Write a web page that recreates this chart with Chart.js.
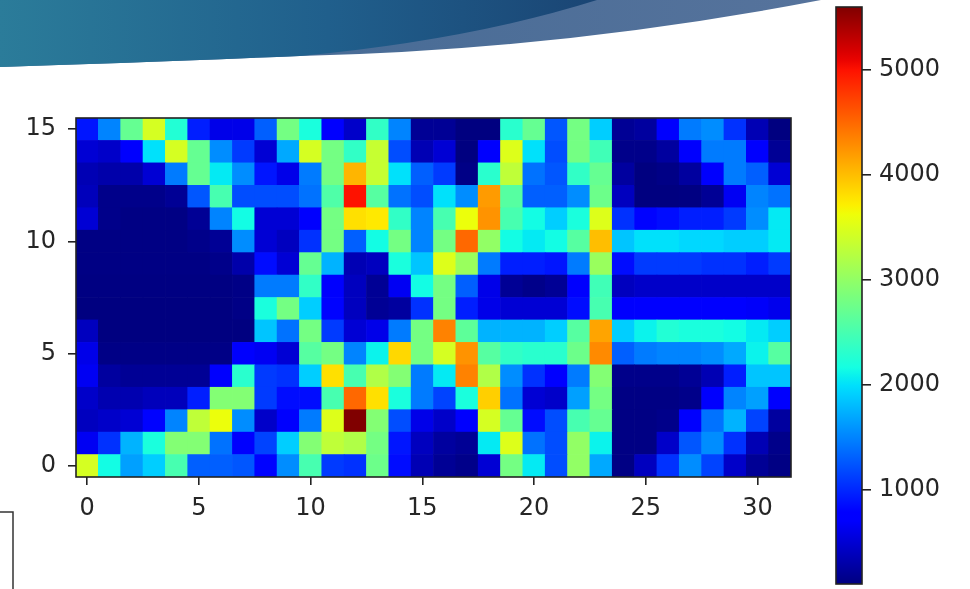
<!DOCTYPE html>
<html>
<head>
<meta charset="utf-8">
<script src="https://cdn.jsdelivr.net/npm/chart.js@4.4.1/dist/chart.umd.min.js"></script>
<style>
  html, body { margin: 0; padding: 0; background: #ffffff; }
  #stage { position: relative; width: 970px; height: 589px; overflow: hidden; background: #ffffff; }
  #deco { position: absolute; left: 0; top: 0; }
  #heatWrap { position: absolute; left: 0; top: 0; width: 820px; height: 589px; }
  #barWrap { position: absolute; left: 800px; top: 0; width: 170px; height: 589px; }
</style>
</head>
<body>
<div id="stage">
  <svg id="deco" width="970" height="589" xmlns="http://www.w3.org/2000/svg">
    <defs>
      <linearGradient id="darkBand" x1="0" y1="0" x2="1" y2="0">
        <stop offset="0" stop-color="#2b7c9a"/>
        <stop offset="0.55" stop-color="#205f8c"/>
        <stop offset="1" stop-color="#1a4574"/>
      </linearGradient>
      <linearGradient id="lightBand" x1="0" y1="0" x2="1" y2="0">
        <stop offset="0" stop-color="#3f6792"/>
        <stop offset="1" stop-color="#56739c"/>
      </linearGradient>
    </defs>
    <path d="M0,0 L821,0 Q560,50 300,56 Q130,63 0,67 Z" fill="url(#lightBand)"/>
    <path d="M0,0 L597,0 Q470,40 300,56 Q130,63 0,67 Z" fill="url(#darkBand)"/>
    <path d="M0,512 H13 V589" fill="none" stroke="#333333" stroke-width="1.5"/>
  </svg>
  <div id="heatWrap"><canvas id="heat"></canvas></div>
  <div id="barWrap"><canvas id="cbar"></canvas></div>
</div>
<script>
// Grid indices and tick labels
const columns = [0,1,2,3,4,5,6,7,8,9,10,11,12,13,14,15,16,17,18,19,20,21,22,23,24,25,26,27,28,29,30,31];
const rowIndex = [0,1,2,3,4,5,6,7,8,9,10,11,12,13,14,15];
const xTicks = [0, 5, 10, 15, 20, 25, 30];
const yTicks = [0, 5, 10, 15];
const cbarTicks = [1000, 2000, 3000, 4000, 5000];

// Cell values, one array per row (row 0 at the bottom)
const row0  = [3450,2150,1650,1900,2500,1300,1300,1250, 800,1550,2500,1100,1050,2750,850,350, 200,150,500,2800,2050,1200,3000,1700, 120,400,1050,1550,1150,450,200,120];
const row1  = [650,1050,1750,2200,2900,2900,1400,700, 1150,1900,2900,3300,3200,2800,900,400, 250,200,2050,3500,1400,1200,3000,2100, 120,120,450,1250,1550,1050,350,150];
const row2  = [400,450,500,800,1500,3300,3600,1550, 450,700,1450,3500,5600,2900,1200,600, 450,700,3450,2700,850,1200,2500,2700, 120,120,150,700,1400,1750,1150,250];
const row3  = [450,330,330,380,380,950,2900,2900, 1100,850,850,2500,4500,3800,2200,1450, 1150,2200,3900,1400,500,450,1650,2800, 120,120,120,150,700,1500,1650,700];
const row4  = [650,250,200,200,200,200,700,2300, 1100,1050,1900,3800,2500,3200,2900,1450, 2050,4350,3200,1550,1050,750,1450,2900, 150,150,150,200,350,950,1850,1850];
const row5  = [600,130,130,130,130,130,130,700, 650,500,2600,2800,1500,2100,3850,2800, 3450,4250,2600,2350,2300,2300,2750,4300, 1300,1450,1500,1500,1550,1700,2100,2600];
const row6  = [400,100,100,100,100,100,100,100, 1850,1400,2800,1100,500,600,1450,2800, 4350,2650,1750,1750,1750,1900,2600,4150, 1900,2100,2250,2200,2200,2150,2050,1900];
const row7  = [100,100,100,100,100,100,100,130, 2200,2800,1900,800,400,200,250,1050, 2800,950,600,500,500,500,850,2500, 700,720,720,720,720,720,680,620];
const row8  = [110,110,110,110,110,110,110,130, 1450,1450,2350,700,400,200,650,2150, 2800,1300,600,200,150,200,700,2450, 400,450,450,450,450,450,450,450];
const row9  = [120,120,120,120,120,120,150,300, 850,500,2700,1750,350,400,2200,1850, 3500,3050,1450,950,950,900,1450,3050, 850,1100,1100,1100,1050,1050,950,1100];
const row10 = [120,120,120,120,120,150,200,1550, 500,400,1050,2800,1300,2150,2800,1500, 2800,4500,3000,2150,2050,2150,2600,4000, 1850,2000,2000,1950,1950,1900,1900,2050];
const row11 = [500,150,120,120,120,200,1500,2150, 500,500,700,2800,3800,3750,2350,1500, 2500,3600,4250,2500,2150,1900,2200,3500, 1050,800,850,950,950,1100,1550,2050];
const row12 = [380,150,150,150,200,1250,2500,1200, 1200,1200,1400,2550,5000,2600,1400,1200, 2000,1550,4200,2600,1300,1300,1550,2750, 400,100,100,110,200,650,1500,1400];
const row13 = [350,300,300,500,1450,2700,2050,1550, 900,600,1450,2800,4050,3350,2000,1300, 1100,130,2300,3300,1400,1250,2350,2700, 250,100,130,250,700,1450,1300,500];
const row14 = [500,450,700,2000,3450,2700,1550,1100, 500,1700,3450,2800,2350,3350,1200,350, 500,100,700,3500,2000,1200,2800,2450, 150,150,250,700,1450,1450,700,200];
const row15 = [900,1500,2700,3450,2250,950,600,600, 1300,2800,2200,750,450,2350,1500,200, 200,100,100,2300,2700,1250,2800,1900, 200,250,700,1450,1550,1050,350,100];

const grid = [row0,row1,row2,row3,row4,row5,row6,row7,row8,row9,row10,row11,row12,row13,row14,row15];

// Colour range follows the data extent
const allValues = grid.flat();
const vmin = Math.min(...allValues);
const vmax = Math.max(...allValues);

// 'jet' colour map (piecewise linear channels)
const JET = {
  r: [[0, 0], [0.35, 0], [0.66, 1], [0.89, 1], [1, 0.5]],
  g: [[0, 0], [0.125, 0], [0.375, 1], [0.64, 1], [0.91, 0], [1, 0]],
  b: [[0, 0.5], [0.11, 1], [0.34, 1], [0.65, 0], [1, 0]]
};
function channel(pts, t) {
  for (let i = 1; i < pts.length; i++) {
    if (t <= pts[i][0]) {
      const [x0, y0] = pts[i - 1], [x1, y1] = pts[i];
      return y0 + (y1 - y0) * (t - x0) / (x1 - x0);
    }
  }
  return pts[pts.length - 1][1];
}
function jet(t) {
  t = Math.max(0, Math.min(1, t));
  const r = Math.round(255 * channel(JET.r, t));
  const g = Math.round(255 * channel(JET.g, t));
  const b = Math.round(255 * channel(JET.b, t));
  return `rgb(${r},${g},${b})`;
}
const norm = v => (v - vmin) / (vmax - vmin);

const FONT = { family: "'DejaVu Sans', sans-serif", size: 24 };
const TEXT = '#262626';
const LINE = '#222222';
const plain = v => String(v);

// Outline drawn round the plotting area
const frame = {
  id: 'frame',
  afterDraw(chart) {
    const { ctx, chartArea: a } = chart;
    ctx.save();
    ctx.strokeStyle = LINE;
    ctx.lineWidth = 1.6;
    ctx.strokeRect(a.left, a.top, a.right - a.left, a.bottom - a.top);
    ctx.restore();
  }
};

// Keep tick labels from adding extra room at the ends of an axis
const noEndPadding = s => { s.paddingTop = 0; s.paddingBottom = 0; s.paddingLeft = 0; s.paddingRight = 0; };

// Heat map: one floating-bar dataset per row, one bar per column
const datasets = grid.map((vals, r) => ({
  data: vals.map((v, c) => ({ x: columns[c], y: [rowIndex[r] - 0.5, rowIndex[r] + 0.5] })),
  backgroundColor: vals.map(v => jet(norm(v))),
  borderWidth: 0,
  grouped: false,
  barPercentage: 1,
  categoryPercentage: 1
}));

new Chart(document.getElementById('heat'), {
  type: 'bar',
  data: { datasets },
  options: {
    responsive: true,
    maintainAspectRatio: false,
    animation: false,
    devicePixelRatio: 1,
    events: [],
    layout: { padding: { top: 118, right: 29, left: 0, bottom: 0 } },
    plugins: { legend: { display: false }, tooltip: { enabled: false } },
    scales: {
      x: {
        type: 'linear',
        min: -0.5, max: 31.5,
        offset: false,
        grid: { display: true, drawOnChartArea: false, drawTicks: true, tickLength: 8, color: LINE, lineWidth: 1.6, offset: false },
        border: { display: false },
        ticks: { font: FONT, color: TEXT, padding: 9, maxRotation: 0, autoSkip: false, callback: plain },
        afterBuildTicks: s => { s.ticks = xTicks.map(v => ({ value: v })); },
        afterFit: s => { s.height = 112; noEndPadding(s); }
      },
      y: {
        type: 'linear',
        min: -0.5, max: 15.5,
        grid: { display: true, drawOnChartArea: false, drawTicks: true, tickLength: 8, color: LINE, lineWidth: 1.6 },
        border: { display: false },
        ticks: { font: FONT, color: TEXT, padding: 12, autoSkip: false, callback: plain },
        afterBuildTicks: s => { s.ticks = yTicks.map(v => ({ value: v })); },
        afterFit: s => { s.width = 76; noEndPadding(s); }
      }
    }
  },
  plugins: [frame]
});

// Colour bar: a single floating bar spanning the value range, filled with the map
function barGradient(context) {
  const { chart } = context;
  const a = chart.chartArea;
  if (!a) return 'rgba(0,0,0,0)';
  const y = chart.scales.y;
  const g = chart.ctx.createLinearGradient(0, y.getPixelForValue(vmin), 0, y.getPixelForValue(vmax));
  for (let i = 0; i <= 64; i++) g.addColorStop(i / 64, jet(i / 64));
  return g;
}

new Chart(document.getElementById('cbar'), {
  type: 'bar',
  data: {
    labels: [''],
    datasets: [{
      data: [[vmin, vmax]],
      backgroundColor: barGradient,
      borderWidth: 0,
      barPercentage: 1,
      categoryPercentage: 1
    }]
  },
  options: {
    responsive: true,
    maintainAspectRatio: false,
    animation: false,
    devicePixelRatio: 1,
    events: [],
    layout: { padding: { top: 7, left: 36, bottom: 5, right: 0 } },
    plugins: { legend: { display: false }, tooltip: { enabled: false } },
    scales: {
      x: { display: false },
      y: {
        position: 'right',
        min: vmin, max: vmax,
        grid: { display: true, drawOnChartArea: false, drawTicks: true, tickLength: 9, color: LINE, lineWidth: 1.6 },
        border: { display: false },
        ticks: { font: FONT, color: TEXT, padding: 8, autoSkip: false, callback: plain },
        afterBuildTicks: s => { s.ticks = cbarTicks.map(v => ({ value: v })); },
        afterFit: s => { s.width = 108; noEndPadding(s); }
      }
    }
  },
  plugins: [frame]
});
</script>
</body>
</html>
